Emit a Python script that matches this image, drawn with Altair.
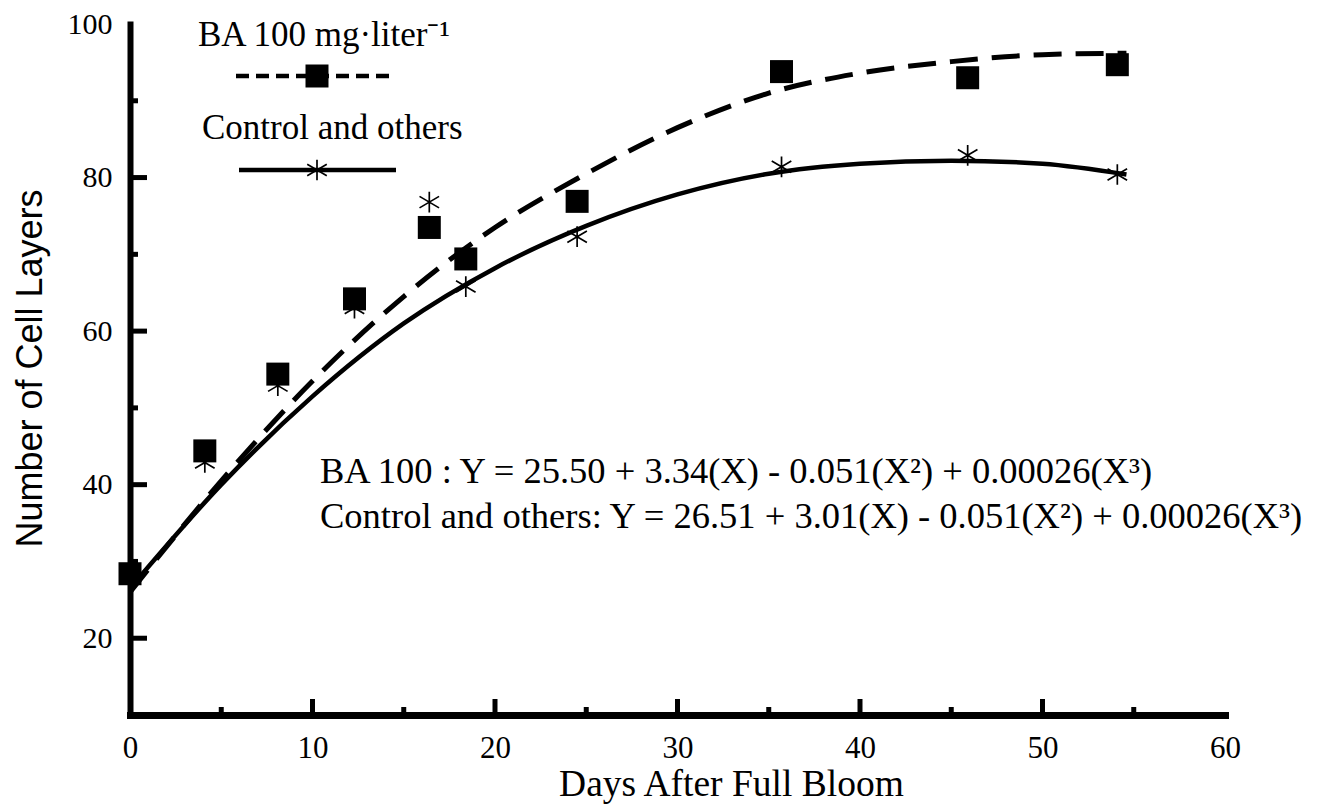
import altair as alt
import pandas as pd

# ---- data ----
days_ba = [0, 4.1, 8.1, 12.3, 16.4, 18.4, 24.5, 35.7, 45.9, 54.1]
cells_ba = [28.4, 44.4, 54.4, 64.2, 73.5, 69.4, 76.9, 93.8, 93.0, 94.7]

days_ctrl = [0, 4.1, 8.1, 12.3, 16.4, 18.4, 24.5, 35.7, 45.9, 54.1]
cells_ctrl = [28.5, 42.9, 52.9, 63.0, 76.8, 65.8, 72.3, 81.4, 82.9, 80.4]

curve_days = [0, 5, 10, 15, 20, 25, 30, 35, 40, 45, 50, 54.6]
curve_ba = [26.0, 40.5, 53.5, 64.5, 73.5, 80.5, 86.5, 91.0, 93.6, 95.1, 96.0, 96.2]
curve_ctrl = [26.5, 40.0, 51.5, 61.0, 68.2, 73.7, 77.8, 80.5, 81.8, 82.2, 81.8, 80.4]

x_labels = [0, 10, 20, 30, 40, 50, 60]
y_labels = [20, 40, 60, 80, 100]
x_major_ticks = [10, 20, 30, 40, 50]
x_minor_ticks = [5, 15, 25, 35, 45, 55]
y_major_ticks = [20, 40, 60, 80]
y_minor_ticks = [30, 50, 70, 90]

legend_ba = "BA 100 mg·liter⁻¹"
legend_ctrl = "Control and others"
eq_ba = "BA 100 : Y = 25.50 + 3.34(X) - 0.051(X²) + 0.00026(X³)"
eq_ctrl = "Control and others: Y = 26.51 + 3.01(X) - 0.051(X²) + 0.00026(X³)"

# ---- styling ----
SERIF = "Liberation Serif"
SANS = "Liberation Sans"
W, H = 1095, 691
STAR = "M0,-0.9L0,0.9M-0.85,-0.5L0.85,0.5M-0.85,0.5L0.85,-0.5"

x_scale = alt.Scale(domain=[0, 60], nice=False, zero=False)
y_scale = alt.Scale(domain=[10, 100], nice=False, zero=False)

x_axis = alt.Axis(
    values=x_labels, ticks=False, grid=False, labelPadding=18, labelFlush=False,
    labelFont=SERIF, labelFontSize=31, labelColor="black",
    domainColor="black", domainWidth=7, domainCap="square",
    title="Days After Full Bloom", titleFont=SERIF, titleFontSize=37.5,
    titleFontWeight="normal", titleColor="black", titleX=601, titleY=80,
    titleAlign="center", titleBaseline="alphabetic",
)
y_axis = alt.Axis(
    values=y_labels, ticks=False, grid=False, labelPadding=18, labelFlush=False,
    labelFont=SERIF, labelFontSize=30, labelColor="black",
    domainColor="black", domainWidth=6, domainCap="square",
    title="Number of Cell Layers", titleFont=SANS, titleFontSize=36,
    titleFontWeight="normal", titleColor="black", titleAngle=270,
    titleX=-89, titleY=344, titleAlign="center", titleBaseline="alphabetic",
)


def X(field="day"):
    return alt.X(f"{field}:Q", scale=x_scale, axis=x_axis)


def Y(field="cells"):
    return alt.Y(f"{field}:Q", scale=y_scale, axis=y_axis)


curves = pd.DataFrame({"day": curve_days, "ba": curve_ba, "ctrl": curve_ctrl})
pts_ba = pd.DataFrame({"day": days_ba, "cells": cells_ba})
pts_ctrl = pd.DataFrame({"day": days_ctrl, "cells": cells_ctrl})

ba_line = alt.Chart(curves).mark_line(
    color="black", strokeWidth=5, strokeDash=[28, 14], interpolate="monotone"
).encode(x=X(), y=alt.Y("ba:Q", scale=y_scale, axis=y_axis))

ctrl_line = alt.Chart(curves).mark_line(
    color="black", strokeWidth=4.5, interpolate="monotone"
).encode(x=X(), y=alt.Y("ctrl:Q", scale=y_scale, axis=y_axis))

stars = alt.Chart(pts_ctrl).mark_point(
    shape=STAR, size=529, filled=False, stroke="black", strokeWidth=1.7, opacity=1
).encode(x=X(), y=Y())

squares = alt.Chart(pts_ba).mark_point(
    shape="square", size=529, filled=True, color="black", opacity=1
).encode(x=X(), y=Y())

# axis ticks pointing inward
xt_major = alt.Chart(pd.DataFrame({"day": x_major_ticks})).mark_rule(
    color="black", strokeWidth=5
).encode(x=X(), y=alt.value(H), y2=alt.value(H - 16))
xt_minor = alt.Chart(pd.DataFrame({"day": x_minor_ticks})).mark_rule(
    color="black", strokeWidth=5
).encode(x=X(), y=alt.value(H), y2=alt.value(H - 8))
yt_major = alt.Chart(pd.DataFrame({"cells": y_major_ticks})).mark_rule(
    color="black", strokeWidth=5
).encode(y=Y(), x=alt.value(0), x2=alt.value(17))
yt_minor = alt.Chart(pd.DataFrame({"cells": y_minor_ticks})).mark_rule(
    color="black", strokeWidth=5
).encode(y=Y(), x=alt.value(0), x2=alt.value(8))

one = pd.DataFrame({"k": [0]})


def label(text, x, y, size=35):
    return alt.Chart(one).mark_text(
        text=text, font=SERIF, fontSize=size, color="black",
        align="left", baseline="alphabetic"
    ).encode(x=alt.value(x), y=alt.value(y))


leg_ba_text = label(legend_ba, 68, 22)
leg_ctrl_text = label(legend_ctrl, 72, 115)
leg_ba_line = alt.Chart(one).mark_rule(
    color="black", strokeWidth=4.5, strokeDash=[13, 7]
).encode(x=alt.value(106), x2=alt.value(262), y=alt.value(52))
leg_ba_sq = alt.Chart(one).mark_point(
    shape="square", size=529, filled=True, color="black", opacity=1
).encode(x=alt.value(187), y=alt.value(52))
leg_ctrl_line = alt.Chart(one).mark_rule(
    color="black", strokeWidth=4.5
).encode(x=alt.value(109), x2=alt.value(266), y=alt.value(146))
leg_ctrl_star = alt.Chart(one).mark_point(
    shape=STAR, size=529, filled=False, stroke="black", strokeWidth=1.7, opacity=1
).encode(x=alt.value(187), y=alt.value(146))

eq1 = label(eq_ba, 190, 459, 36.5)
eq2 = label(eq_ctrl, 190, 504, 36.5)

chart = alt.layer(
    xt_major, xt_minor, yt_major, yt_minor,
    ba_line, ctrl_line, stars, squares,
    leg_ba_line, leg_ctrl_line, leg_ba_sq, leg_ctrl_star,
    leg_ba_text, leg_ctrl_text, eq1, eq2,
).properties(
    width=W, height=H,
    autosize=alt.AutoSizeParams(type="none"),
    padding={"left": 122, "top": 16, "right": 100, "bottom": 89},
    background="white",
).configure_view(stroke=None)

chart.save("out.html", embed_options={"renderer": "svg", "actions": False})
